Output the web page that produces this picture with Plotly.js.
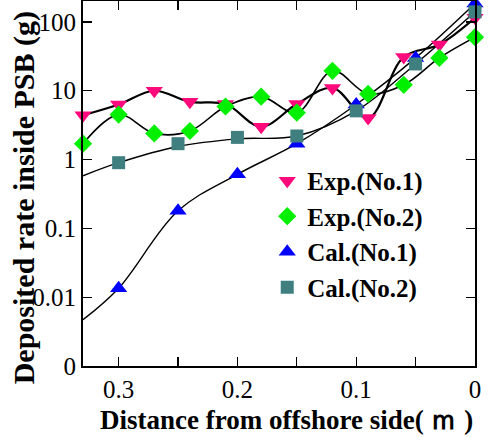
<!DOCTYPE html>
<html>
<head>
<meta charset="utf-8">
<script src="https://cdn.plot.ly/plotly-3.0.1.min.js"></script>
<style>html,body{margin:0;padding:0;background:#fff;}#chart{width:491px;height:437px;}</style>
</head>
<body>
<div id="chart"></div>
<script>
// Data
const expX = [0.33, 0.30, 0.27, 0.24, 0.21, 0.18, 0.15, 0.12, 0.09, 0.06, 0.03, 0.0];
const exp1 = [4.4, 6.3, 10.0, 6.9, 6.4, 3.0, 6.4, 11.0, 4.0, 31, 47, 115];
const exp2 = [1.7, 4.5, 2.4, 2.6, 5.9, 8.2, 4.8, 19.5, 9.0, 12.2, 30, 60];
const calX = [0.30, 0.25, 0.20, 0.15, 0.10, 0.05, 0.0];
const cal1 = [0.0135, 0.18, 0.61, 1.7, 6.3, 30, 185];
const cal2 = [0.9, 1.7, 2.1, 2.2, 5.1, 24.5, 140];
// Fitted curves for the calculated series extend to the left edge
const calLineX = [0.33, 0.30, 0.25, 0.20, 0.15, 0.10, 0.05, 0.0];
const cal1Line = [0.0047, 0.0135, 0.18, 0.61, 1.7, 6.3, 30, 185];
const cal2Line = [0.58, 0.9, 1.55, 2.0, 2.2, 5.1, 24.5, 140];
const xTickVals = [0.3, 0.25, 0.2, 0.15, 0.1, 0.05, 0];
const xTickText = ['0.3', '', '0.2', '', '0.1', '', '0'];
const yTickVals = [0.001, 0.01, 0.1, 1, 10, 100];
const yTickText = ['0', '0.01', '0.1', '1', '10', '100'];
const names = ['Exp.(No.1)', 'Exp.(No.2)', 'Cal.(No.1)', 'Cal.(No.2)'];
const xTitle = 'Distance from offshore side( ｍ )';
const yTitle = 'Deposited rate inside PSB (g)';

const serif = 'Liberation Serif, Times New Roman, serif';
const lineStyle = (w) => ({color: '#000', width: w, shape: 'spline', smoothing: 1});

const traces = [
  {x: expX, y: exp1, mode: 'lines', line: lineStyle(2.2), showlegend: false, hoverinfo: 'skip'},
  {x: expX, y: exp2, mode: 'lines', line: lineStyle(1.6), showlegend: false, hoverinfo: 'skip'},
  {x: calLineX, y: cal1Line, mode: 'lines', line: lineStyle(1.4), showlegend: false, hoverinfo: 'skip'},
  {x: calLineX, y: cal2Line, mode: 'lines', line: lineStyle(1.4), showlegend: false, hoverinfo: 'skip'},
  {x: expX, y: exp1, mode: 'markers', name: '<b>' + names[0] + '</b>', cliponaxis: false,
   marker: {symbol: 'triangle-down', size: 15, color: '#ff0a7c'}},
  {x: expX, y: exp2, mode: 'markers', name: '<b>' + names[1] + '</b>', cliponaxis: false,
   marker: {symbol: 'diamond', size: 14, color: '#00f000'}},
  {x: calX, y: cal1, mode: 'markers', name: '<b>' + names[2] + '</b>', cliponaxis: false,
   marker: {symbol: 'triangle-up', size: 15, color: '#0000ff'}},
  {x: calX, y: cal2, mode: 'markers', name: '<b>' + names[3] + '</b>', cliponaxis: false,
   marker: {symbol: 'square', size: 13, color: '#3f7f7f'}}
];

const layout = {
  width: 491, height: 437,
  margin: {l: 83, r: 16, t: 1, b: 71},
  paper_bgcolor: '#fff', plot_bgcolor: '#fff',
  font: {family: serif, color: '#000'},
  xaxis: {
    range: [0.33, 0], autorange: false,
    tickvals: xTickVals, ticktext: xTickText,
    ticks: 'inside', ticklen: 9, tickwidth: 1.2, tickcolor: '#000',
    showline: true, linecolor: '#000', linewidth: 2, mirror: 'ticks',
    showgrid: false, zeroline: false,
    tickfont: {family: serif, size: 25, color: '#000'}
  },
  yaxis: {
    type: 'log', range: [-3, 2.304], autorange: false,
    tickvals: yTickVals, ticktext: yTickText,
    ticks: 'inside', ticklen: 9, tickwidth: 1.2, tickcolor: '#000',
    showline: true, linecolor: '#000', linewidth: 2, mirror: 'ticks',
    showgrid: false, zeroline: false,
    tickfont: {family: serif, size: 25, color: '#000'}
  },
  annotations: [
    {xref: 'paper', yref: 'paper', x: 0.52, y: -0.148, xanchor: 'center', yanchor: 'middle',
     text: '<b>' + xTitle + '</b>', showarrow: false, font: {family: serif, size: 27, color: '#000'}},
    {xref: 'paper', yref: 'paper', x: -0.15, y: 0.46, xanchor: 'center', yanchor: 'middle',
     textangle: -90, text: '<b>' + yTitle + '</b>', showarrow: false, font: {family: serif, size: 30, color: '#000'}}
  ],
  legend: {
    x: 0.47, y: 0.57, xanchor: 'left', yanchor: 'top',
    bgcolor: 'rgba(0,0,0,0)', borderwidth: 0,
    font: {family: serif, size: 25, color: '#000'},
    itemwidth: 30, tracegroupgap: 0
  },
  showlegend: true
};

Plotly.newPlot('chart', traces, layout, {displayModeBar: false, staticPlot: true});
</script>
</body>
</html>
